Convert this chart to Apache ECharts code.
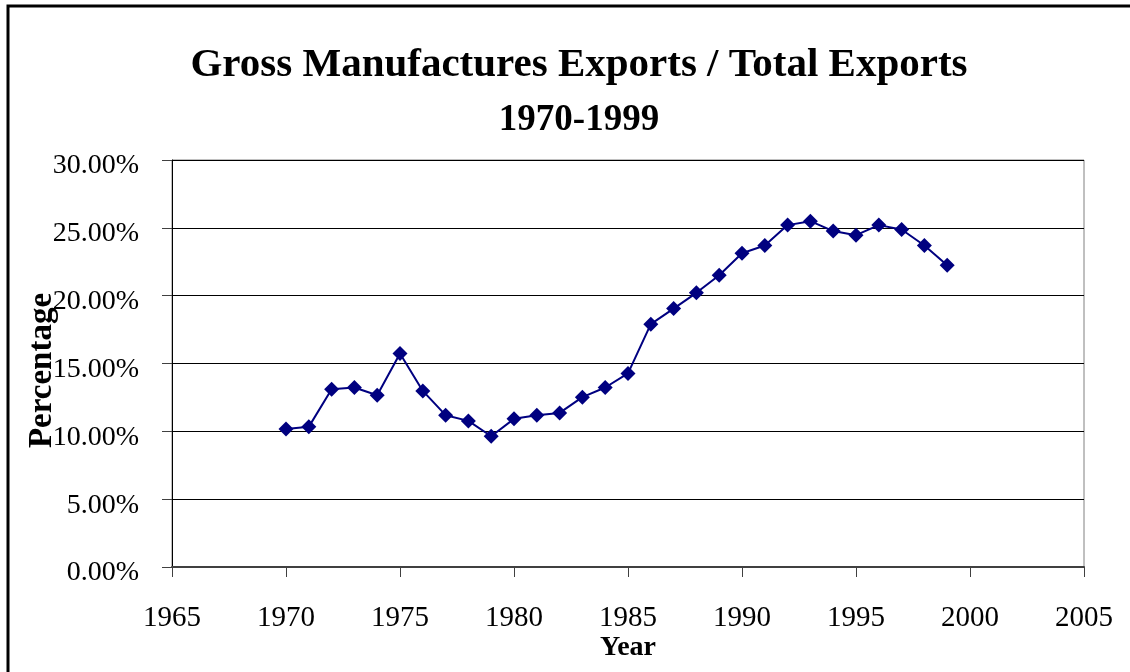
<!DOCTYPE html>
<html>
<head>
<meta charset="utf-8">
<script src="https://cdn.jsdelivr.net/npm/echarts@6/dist/echarts.min.js"></script>
<style>
html,body{margin:0;padding:0;background:#fff;}
#chart{width:1130px;height:672px;}
</style>
</head>
<body>
<div id="chart"></div>
<script>
var years = [1970,1971,1972,1973,1974,1975,1976,1977,1978,1979,1980,1981,1982,1983,1984,1985,1986,1987,1988,1989,1990,1991,1992,1993,1994,1995,1996,1997,1998,1999];
var shares = [10.18,10.33,13.10,13.23,12.66,15.74,12.98,11.19,10.77,9.64,10.92,11.19,11.36,12.52,13.23,14.27,17.90,19.05,20.21,21.51,23.13,23.70,25.20,25.49,24.76,24.46,25.20,24.88,23.70,22.25];
var titleLine1 = 'Gross Manufactures Exports / Total Exports';
var titleLine2 = '1970-1999';
var xName = 'Year';
var yName = 'Percentage';

var FONT = "'Liberation Serif', 'Times New Roman', serif";
var chart = echarts.init(document.getElementById('chart'));
var pts = years.map(function(y, i){ return [y, shares[i]]; });
chart.setOption({
  animation: false,
  backgroundColor: '#fff',
  title: {
    text: titleLine1,
    subtext: titleLine2,
    left: 574, top: 40, textAlign: 'center', itemGap: 16,
    textStyle: { fontFamily: FONT, fontWeight: 'bold', fontSize: 41, color: '#000' },
    subtextStyle: { fontFamily: FONT, fontWeight: 'bold', fontSize: 37, color: '#000' }
  },
  graphic: [{
    type: 'rect', silent: true,
    shape: { x: 8, y: 6, width: 1200, height: 800 },
    style: { fill: 'none', stroke: '#000', lineWidth: 3 }
  }],
  grid: { left: 172, top: 160, right: 46, bottom: 105, show: true, borderColor: '#808080', borderWidth: 1, backgroundColor: 'transparent' },
  xAxis: {
    type: 'value', min: 1965, max: 2005, interval: 5,
    name: xName, nameLocation: 'middle', nameGap: 67, nameMoveOverlap: false,
    nameTextStyle: { fontFamily: FONT, fontWeight: 'bold', fontSize: 28, color: '#000' },
    axisLine: { show: true, lineStyle: { color: '#404040', width: 2 } },
    axisTick: { show: true, inside: false, length: 10, lineStyle: { color: '#404040', width: 1 } },
    axisLabel: { fontFamily: FONT, fontSize: 29, color: '#000', margin: 37,
      formatter: function(v){ return String(v); } },
    splitLine: { show: false }
  },
  yAxis: {
    type: 'value', min: 0, max: 30, interval: 5,
    name: yName, nameLocation: 'middle', nameGap: 113, nameRotate: 90, nameMoveOverlap: false,
    nameTextStyle: { fontFamily: FONT, fontWeight: 'bold', fontSize: 33, color: '#000', padding: [0, 14, 0, 0] },
    axisLine: { show: true, lineStyle: { color: '#000', width: 1 } },
    axisTick: { show: true, inside: false, length: 10, lineStyle: { color: '#404040', width: 1 } },
    axisLabel: { fontFamily: FONT, fontSize: 28, color: '#000', margin: 33,
      formatter: function(v){ return '{a|' + v.toFixed(2) + '%}'; },
      rich: { a: { fontFamily: FONT, fontSize: 28, color: '#000', padding: [12, 0, 0, 0] } } },
    splitLine: { show: true, lineStyle: { color: '#000', width: 1 } }
  },
  series: [{
    type: 'line', data: pts,
    symbol: 'diamond', symbolSize: 15, showSymbol: true,
    lineStyle: { color: '#000080', width: 2 },
    itemStyle: { color: '#000080' }
  }]
});
</script>
</body>
</html>
